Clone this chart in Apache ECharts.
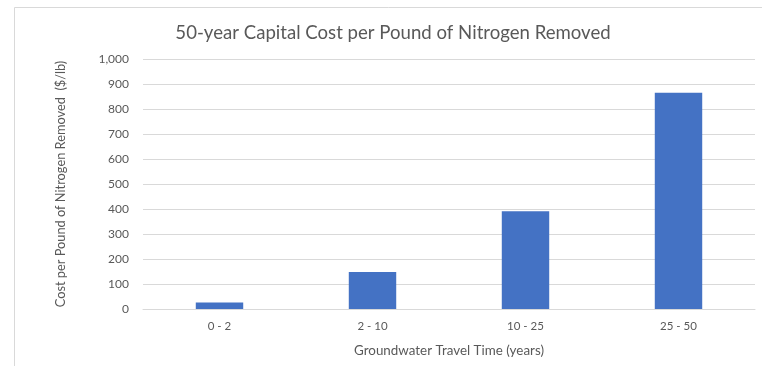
<!DOCTYPE html>
<html><head><meta charset="utf-8">
<script src="https://cdn.jsdelivr.net/npm/echarts@6/dist/echarts.min.js"></script>
<style>html,body{margin:0;padding:0;background:#fff}#c{width:762px;height:366px}</style>
</head><body><div id="c"></div>
<script>
const categories = ['0 - 2', '2 - 10', '10 - 25', '25 - 50'];
const costValues = [26, 148, 391, 865];
const yTicks = [0, 100, 200, 300, 400, 500, 600, 700, 800, 900, 1000];

const chart = echarts.init(document.getElementById('c'), null, {renderer: 'canvas'});
const font = 'Lato, "Open Sans", sans-serif';
chart.setOption({
  animation: false,
  backgroundColor: '#fff',
  graphic: [{
    type: 'rect', left: 12, top: 5, z: -1,
    shape: {width: 770, height: 400},
    style: {fill: 'none', stroke: '#d9d9d9', lineWidth: 1}
  }],
  title: {
    text: '50-year Capital Cost per Pound of Nitrogen Removed',
    left: 388, top: 18, textAlign: 'center',
    textStyle: {fontFamily: font, fontSize: 18.6, fontWeight: 'normal', color: '#595959'}
  },
  grid: {left: 143, right: 7, top: 59, bottom: 366 - 309, containLabel: false},
  xAxis: {
    type: 'category', data: categories,
    axisLine: {show: true, lineStyle: {color: '#d9d9d9'}},
    axisTick: {show: false},
    axisLabel: {color: '#595959', fontFamily: font, fontSize: 11.5, margin: 11},
    name: 'Groundwater Travel Time (years)', nameLocation: 'middle', nameGap: 35,
    nameTextStyle: {color: '#595959', fontFamily: font, fontSize: 13.4}
  },
  yAxis: {
    type: 'value', min: 0, max: 1000, interval: 100,
    axisLine: {show: false}, axisTick: {show: false},
    splitLine: {lineStyle: {color: '#d9d9d9'}},
    axisLabel: {
      color: '#595959', fontFamily: font, fontSize: 12, margin: 14,
      formatter: v => yTicks.includes(v) ? v.toLocaleString('en-US') : ''
    },
    name: 'Cost per Pound of Nitrogen Removed  ($/lb)', nameLocation: 'middle', nameGap: 76,
    nameTextStyle: {color: '#595959', fontFamily: font, fontSize: 12.8}
  },
  series: [{
    type: 'bar', data: costValues, barWidth: '31%',
    itemStyle: {color: '#4472c4'}
  }]
});
</script></body></html>
